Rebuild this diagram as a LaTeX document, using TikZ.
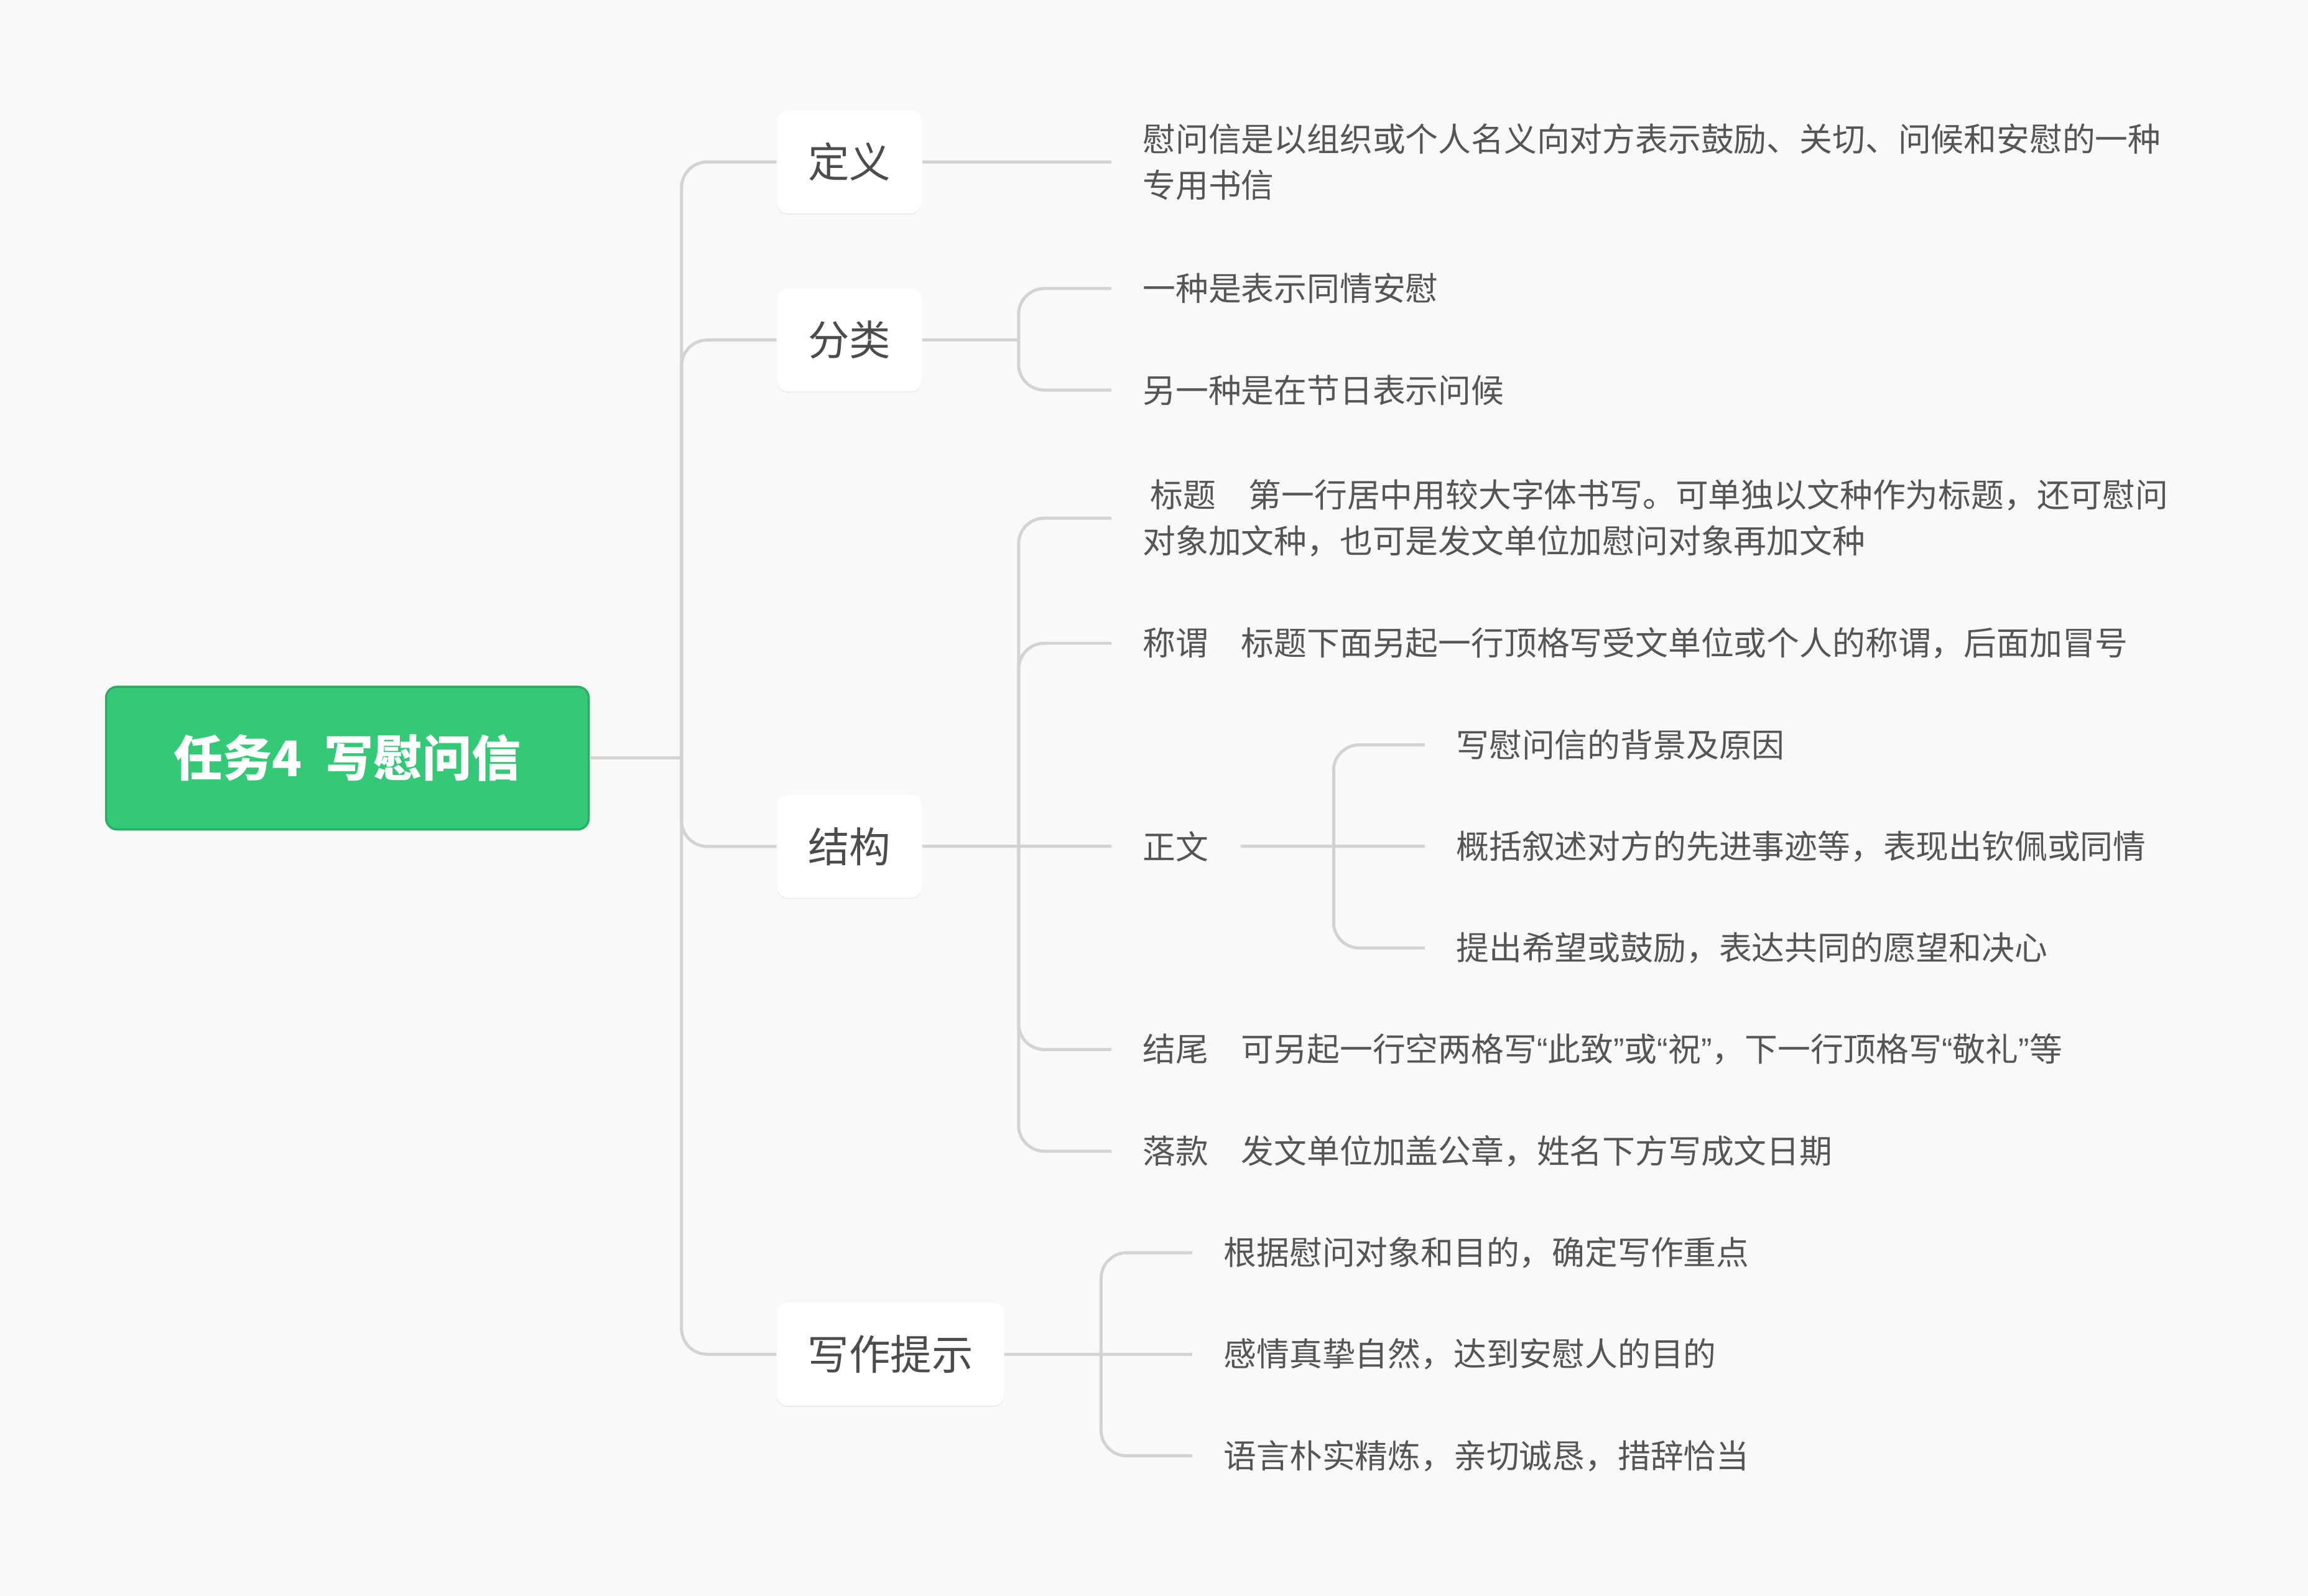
\documentclass[tikz,border=0pt]{standalone}
\usepackage{fontspec}
\setmainfont{Noto Sans CJK SC}
\newfontfamily\qf{Liberation Sans}
\usetikzlibrary{shadows}
\definecolor{bg}{HTML}{F9F9F9}
\definecolor{txt}{HTML}{555555}
\definecolor{ln}{HTML}{D3D3D3}
\definecolor{grn}{HTML}{33C976}
\tikzset{
 conn/.style={draw=ln,line width=1.2pt,rounded corners=0.35cm},
 topic/.style={draw=none,fill=white,rounded corners=0.15cm,minimum height=1.4cm,inner xsep=0.42cm,font=\fontsize{16}{18}\selectfont,text=txt!90!black,drop shadow={opacity=0.12,shadow xshift=0pt,shadow yshift=-0.4pt}},
 leaf/.style={anchor=west,inner xsep=0.42cm,inner ysep=0pt,text=txt,font=\fontsize{12.7}{17.7}\selectfont,align=left},
}
\newcommand{\oq}{{\qf “}}
\newcommand{\cq}{{\qf ”}}
\begin{document}
\begin{tikzpicture}[x=0.02cm,y=-0.02cm]
\fill[bg] (0,0) rectangle (1568,1084);
\useasboundingbox (0,0) rectangle (1568,1084);
\node[fill=grn,draw=grn!85!black,line width=0.8pt,rounded corners=0.15cm,minimum width=6.56cm,minimum height=1.94cm,text=white,font=\fontsize{19}{22}\selectfont\bfseries] (root) at (236,515) {任务4\ \ 写慰问信};
\node[topic] (def) at (577,110) {定义};
\node[topic] (fen) at (577,231) {分类};
\node[topic] (jie) at (577,575) {结构};
\node[topic] (xie) at (605,920) {写作提示};
\coordinate (t0) at (463,515);
\draw[conn] (root.east) -- (t0);
\draw[conn] (t0) |- (def.west);
\draw[conn] (t0) |- (fen.west);
\draw[conn] (t0) |- (jie.west);
\draw[conn] (t0) |- (xie.west);
% definition
\node[leaf] (d1) at (755,110) {慰问信是以组织或个人名义向对方表示鼓励、关切、问候和安慰的一种\\专用书信};
\draw[conn] (def.east) -- (d1.west);
% classification
\node[leaf] (f1) at (755,196) {一种是表示同情安慰};
\node[leaf] (f2) at (755,265) {另一种是在节日表示问候};
\coordinate (fj) at (692,231);
\draw[conn] (fen.east) -- (fj);
\draw[conn] (fj) |- (f1.west);
\draw[conn] (fj) |- (f2.west);
% structure
\node[leaf] (s1) at (755,352) {\ 标题\quad 第一行居中用较大字体书写。可单独以文种作为标题，还可慰问\\对象加文种，也可是发文单位加慰问对象再加文种};
\node[leaf] (s2) at (755,437) {称谓\quad 标题下面另起一行顶格写受文单位或个人的称谓，后面加冒号};
\node[leaf] (s3) at (755,575) {正文};
\node[leaf] (s4) at (755,713) {结尾\quad 可另起一行空两格写\oq 此致\cq 或\oq 祝\cq ，下一行顶格写\oq 敬礼\cq 等};
\node[leaf] (s5) at (755,782) {落款\quad 发文单位加盖公章，姓名下方写成文日期};
\coordinate (sj) at (692,575);
\draw[conn] (jie.east) -- (s3.west);
\draw[conn] (sj) |- (s1.west);
\draw[conn] (sj) |- (s2.west);
\draw[conn] (sj) |- (s4.west);
\draw[conn] (sj) |- (s5.west);
\node[leaf] (z1) at (968,506) {写慰问信的背景及原因};
\node[leaf] (z2) at (968,575) {概括叙述对方的先进事迹等，表现出钦佩或同情};
\node[leaf] (z3) at (968,644) {提出希望或鼓励，表达共同的愿望和决心};
\coordinate (zs) at (843,575);
\coordinate (zj) at (906,575);
\draw[conn] (zs) -- (z2.west);
\draw[conn] (zj) |- (z1.west);
\draw[conn] (zj) |- (z3.west);
% tips
\node[leaf] (x1) at (810,851) {根据慰问对象和目的，确定写作重点};
\node[leaf] (x2) at (810,920) {感情真挚自然，达到安慰人的目的};
\node[leaf] (x3) at (810,989) {语言朴实精炼，亲切诚恳，措辞恰当};
\coordinate (xj) at (748,920);
\draw[conn] (xie.east) -- (x2.west);
\draw[conn] (xj) |- (x1.west);
\draw[conn] (xj) |- (x3.west);
\end{tikzpicture}
\end{document}
